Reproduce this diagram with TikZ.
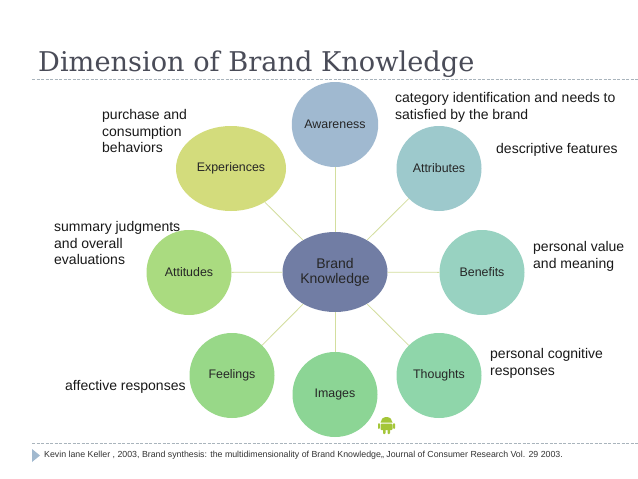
\documentclass[tikz,border=0pt]{standalone}
\usepackage{fontspec}
\usetikzlibrary{shapes.geometric}
\setmainfont{Liberation Sans}
\newfontfamily\titlefont{DejaVu Serif}
\definecolor{titlegray}{HTML}{4A4C58}
\definecolor{dashgray}{HTML}{A9B4BC}
\definecolor{linkc}{HTML}{D3DE9E}
\definecolor{tri}{RGB}{161,185,207}
\definecolor{droid}{RGB}{164,198,57}
\tikzset{
  x=1pt,y=-1pt,
  bub/.style={ellipse,inner sep=0pt,minimum width=#1,minimum height=85pt,font=\fontsize{12.4}{14}\selectfont,text=black!85,align=center},
  note/.style={anchor=north west,inner sep=0pt,align=left,font=\fontsize{14}{16.8}\selectfont,text=black!90},
  link/.style={draw=linkc,line width=0.8pt},
  rulel/.style={draw=dashgray,line width=0.5pt,dash pattern=on 3pt off 1.5pt}
}
\begin{document}
\begin{tikzpicture}
\useasboundingbox (0,0) rectangle (638,479);
\fill[white] (0,0) rectangle (638,479);
\node[anchor=base west,inner sep=0pt,font=\titlefont\fontsize{27.2}{30}\selectfont,text=titlegray] (title) at (38,71) {Dimension of Brand Knowledge};
\coordinate (ra) at (32,79); \coordinate (rb) at (638,79);
\draw[rulel] (ra) -- (rb);
\coordinate (rc) at (32,443); \coordinate (rd) at (638,443);
\draw[rulel] (rc) -- (rd);
\node[bub=85pt,fill={rgb,255:red,160;green,185;blue,208}] (aw) at (335,124.5) {Awareness};
\node[bub=85pt,fill={rgb,255:red,157;green,201;blue,204}] (at) at (439,168.5) {Attributes};
\node[bub=85pt,fill={rgb,255:red,152;green,210;blue,193}] (be) at (482,272.5) {Benefits};
\node[bub=85pt,fill={rgb,255:red,143;green,214;blue,170}] (th) at (439,375.5) {Thoughts};
\node[bub=85pt,fill={rgb,255:red,140;green,213;blue,149}] (im) at (335,394.5) {Images};
\node[bub=85pt,fill={rgb,255:red,152;green,216;blue,136}] (fe) at (232,375.5) {Feelings};
\node[bub=85pt,fill={rgb,255:red,170;green,219;blue,128}] (ati) at (189,272.5) {Attitudes};
\node[bub=110pt,fill={rgb,255:red,211;green,220;blue,124}] (ex) at (231,168.5) {Experiences};
\node[bub=105pt,minimum height=80pt,fill={rgb,255:red,113;green,125;blue,164},font=\fontsize{14}{15}\selectfont] (center) at (335,272) {Brand\\Knowledge};
\foreach \n in {aw,at,be,th,im,fe,ati,ex} \draw[link] (center) -- (\n);
\node[note] (n1) at (395,92.5) {category identification and needs to\\satisfied by the brand};
\node[note] (n2) at (496,143) {descriptive features};
\node[note] (n3) at (533,241) {personal value\\and meaning};
\node[note] (n4) at (490,348) {personal cognitive\\responses};
\node[note] (n5) at (65,380) {affective responses};
\node[note] (n6) at (54,221) {summary judgments\\and overall\\evaluations};
\node[note] (n7) at (102,109) {purchase and\\consumption\\behaviors};
\fill[tri] (32,449) -- (40,455.5) -- (32,462) -- cycle;
\node[anchor=base west,inner sep=0pt,font=\fontsize{8.8}{10}\selectfont,text=black!80] (ref) at (44,457) {Kevin lane Keller , 2003, Brand synthesis: the multidimensionality of Brand Knowledge,, Journal of Consumer Research Vol. 29 2003.};
% android logo
\begin{scope}[fill=droid]
\fill (380.5,422.5) arc (180:360:6 and 5.5) -- cycle;
\fill[rounded corners=1pt] (380.5,423.5) rectangle (392.5,430);
\fill[rounded corners=1pt] (383,429) rectangle (385.5,434);
\fill[rounded corners=1pt] (387.5,429) rectangle (390,434);
\fill[rounded corners=1pt] (378,423) rectangle (379.8,429);
\fill[rounded corners=1pt] (393.2,423) rectangle (395,429);
\end{scope}
\end{tikzpicture}
\end{document}
